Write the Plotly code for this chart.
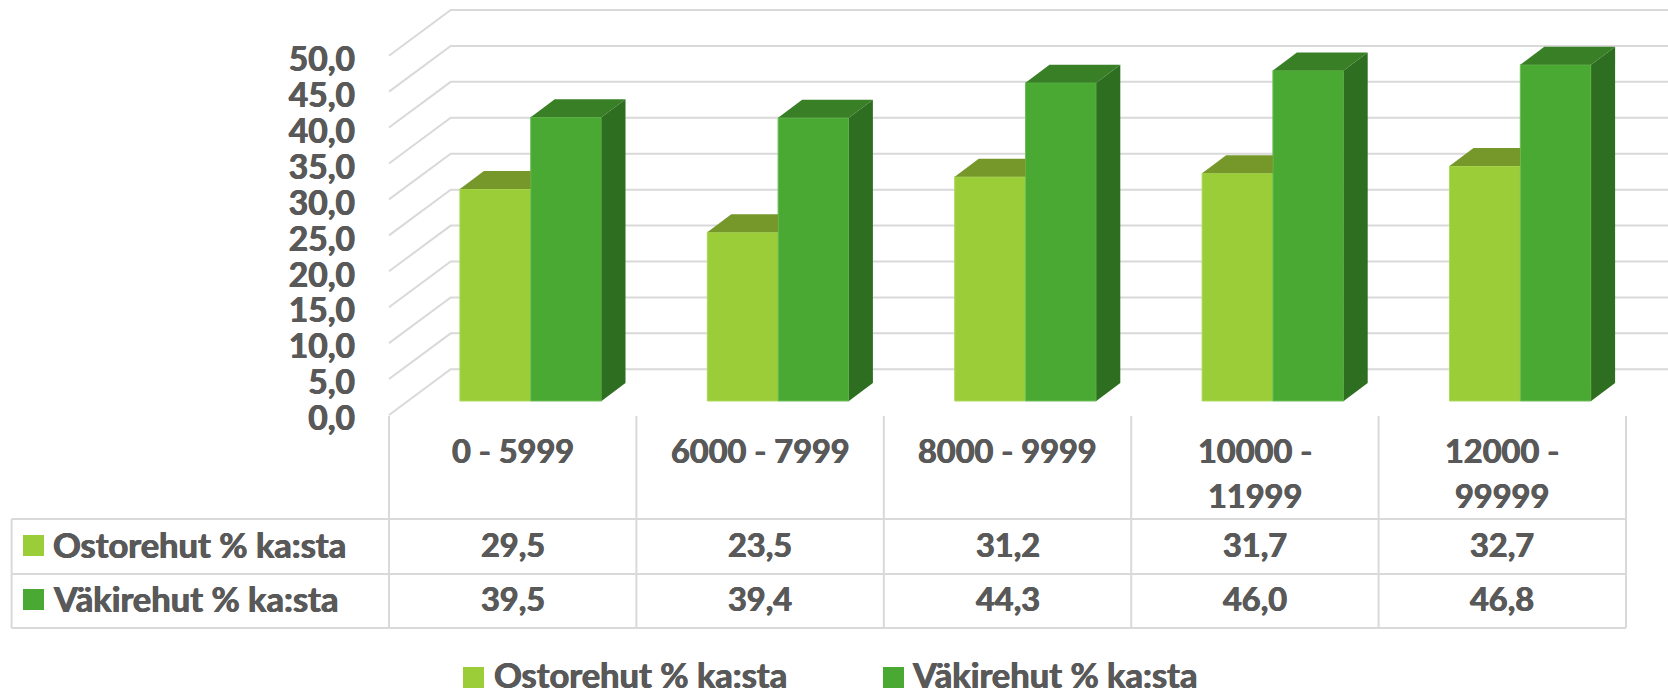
import plotly.graph_objects as go

# ---- data ----
categories = ["0 - 5999", "6000 - 7999", "8000 - 9999", "10000 - 11999", "12000 - 99999"]
ostorehut = [29.5, 23.5, 31.2, 31.7, 32.7]
vakirehut = [39.5, 39.4, 44.3, 46.0, 46.8]
series_names = ["Ostorehut % ka:sta", "Väkirehut % ka:sta"]
y_ticks = [0, 5, 10, 15, 20, 25, 30, 35, 40, 45, 50]

# ---- look ----
W, H = 1668, 689
FONT = "Lato"
TXT = "#595959"
FS = 32.5
FS_NAME = 34.5
FS_TICK = 33.5
SHADOW = "0.5px 0 0 #595959, -0.5px 0 0 #595959"
LINE = "#D9D9D9"
C1 = dict(front="#9ACD38", top="#76982B", edge="#ACD95A")
C2 = dict(front="#49A932", top="#387F26", side="#2E6E20", edge="#6DBE58")

# pixel calibration of the chart frame
CAT_W = 247.4          # px per category
TABLE_L = 389.0        # px of first category boundary
UNIT = 7.186           # px per value unit
BASE = 401.0           # px of value 0 in the plane of the bars' fronts
x_range = [-0.5 - TABLE_L / CAT_W, -0.5 + (W - TABLE_L) / CAT_W]
y_range = [(BASE - H) / UNIT, BASE / UNIT]

BAR_W = 70.8 / CAT_W
BAR_SHIFT = 18.0 / CAT_W
DEPTH_X = 24.0 / CAT_W
DEPTH_Y = 18.0 / UNIT
WALL_X = 61.7 / CAT_W
WALL_Y = 31.7 / UNIT
FLOOR_Y = -14.0 / UNIT
LABEL_SHIFT = 17.5 / UNIT   # tick labels sit just under the front floor edge


def py(px):
    return 1 - px / H


def px(x):
    return x / W


fig = go.Figure()

# front faces
xs = list(range(len(categories)))
fig.add_bar(x=xs, y=ostorehut, name=series_names[0], width=BAR_W,
            offset=BAR_SHIFT - BAR_W, marker=dict(color=C1["front"], line=dict(color=C1["edge"], width=1)),
            showlegend=False, hovertemplate="%{y:.1f}<extra>" + series_names[0] + "</extra>")
fig.add_bar(x=xs, y=vakirehut, name=series_names[1], width=BAR_W,
            offset=BAR_SHIFT, marker=dict(color=C2["front"], line=dict(color=C2["edge"], width=1)),
            showlegend=False, hovertemplate="%{y:.1f}<extra>" + series_names[1] + "</extra>")


def face(xv, yv, color):
    fig.add_trace(go.Scatter(x=xv, y=yv, mode="lines", fill="toself", fillcolor=color,
                             line=dict(width=0, color=color), hoverinfo="skip", showlegend=False))


# 3-D faces derived from the values
for i in xs:
    v1, v2 = ostorehut[i], vakirehut[i]
    l1 = i + BAR_SHIFT - BAR_W
    m = i + BAR_SHIFT
    r = i + BAR_SHIFT + BAR_W
    # top of the light bar, cut where the dark bar covers it
    face([l1, l1 + DEPTH_X, m, m, l1], [v1, v1 + DEPTH_Y, v1 + DEPTH_Y, v1, v1], C1["top"])
    # top and side of the dark bar
    face([m, m + DEPTH_X, r + DEPTH_X, r, m], [v2, v2 + DEPTH_Y, v2 + DEPTH_Y, v2, v2], C2["top"])
    face([r, r + DEPTH_X, r + DEPTH_X, r, r], [0, DEPTH_Y, v2 + DEPTH_Y, v2, 0], C2["side"])

shapes = []
ann = []

# gridlines: side wall then back wall
for t in y_ticks:
    shapes.append(dict(type="path", xref="x", yref="y", layer="below",
                       path=f"M {-0.5},{t + FLOOR_Y} L {-0.5 + WALL_X},{t + WALL_Y} L {x_range[1]},{t + WALL_Y}",
                       line=dict(color=LINE, width=2)))

# data table
ROW_TOP, ROW_1, ROW_2 = 519.0, 574.0, 628.0
TOP = 416.0
for i in range(len(categories) + 1):
    shapes.append(dict(type="line", xref="x", yref="paper", x0=i - 0.5, x1=i - 0.5, y0=py(TOP), y1=py(ROW_2),
                       line=dict(color=LINE, width=2)))
LEFT = 11.6
for rowy in (ROW_TOP, ROW_1, ROW_2):
    shapes.append(dict(type="line", xref="paper", yref="paper", x0=px(LEFT), x1=px(TABLE_L + CAT_W * len(categories)),
                       y0=py(rowy), y1=py(rowy), line=dict(color=LINE, width=2)))
shapes.append(dict(type="line", xref="paper", yref="paper", x0=px(LEFT), x1=px(LEFT), y0=py(ROW_TOP), y1=py(ROW_2),
                   line=dict(color=LINE, width=2)))


def text(s, xv, yv, xref="x", anchor="center", size=FS):
    ann.append(dict(text=s, x=xv, y=py(yv), xref=xref, yref="paper", xanchor=anchor, yanchor="middle",
                    showarrow=False, font=dict(family=FONT, size=size, color=TXT, weight=700, shadow=SHADOW)))


def swatch(x0, y0, color):
    shapes.append(dict(type="rect", xref="paper", yref="paper", x0=px(x0), x1=px(x0 + 21), y0=py(y0), y1=py(y0 + 21),
                       fillcolor=color, line=dict(width=0)))


for i, c in enumerate(categories):
    if len(c) > 11:
        a, b = c.rsplit(" ", 1)
        text(a, i, 450.5)
        text(b, i, 495)
    else:
        text(c, i, 450.5)
    text(f"{ostorehut[i]:.1f}".replace(".", ","), i, 544.5)
    text(f"{vakirehut[i]:.1f}".replace(".", ","), i, 598.5)

swatch(23, 535, C1["front"])
swatch(23, 589, C2["front"])
text(series_names[0], px(50.5), 544.5, xref="paper", anchor="left", size=FS_NAME)
text(series_names[1], px(50.5), 598.5, xref="paper", anchor="left", size=FS_NAME)

# legend
swatch(463, 667, C1["front"])
swatch(883, 667, C2["front"])
text(series_names[0], px(492), 674, xref="paper", anchor="left", size=FS_NAME)
text(series_names[1], px(910), 674, xref="paper", anchor="left", size=FS_NAME)

fig.update_layout(
    width=W, height=H, margin=dict(l=0, r=0, t=0, b=0), autosize=False,
    paper_bgcolor="white", plot_bgcolor="white", barmode="overlay", showlegend=False,
    separators=", ",
    xaxis=dict(range=x_range, visible=False, fixedrange=True),
    yaxis=dict(range=y_range, visible=False, fixedrange=True),
    yaxis2=dict(range=[y_range[0] + LABEL_SHIFT, y_range[1] + LABEL_SHIFT], overlaying="y", anchor="free",
                position=355 / W, side="left", tickmode="array", tickvals=y_ticks, tickformat=".1f",
                showgrid=False, zeroline=False, showline=False, ticks="", fixedrange=True,
                tickfont=dict(family=FONT, size=FS_TICK, color=TXT, weight=700, shadow=SHADOW)),
    shapes=shapes, annotations=ann,
)
# empty trace keeps the value axis on the page
fig.add_trace(go.Scatter(x=[None], y=[None], yaxis="y2", hoverinfo="skip", showlegend=False))

fig.write_html("out.html", config=dict(displayModeBar=False),
               post_script="document.body.style.margin='0';")
